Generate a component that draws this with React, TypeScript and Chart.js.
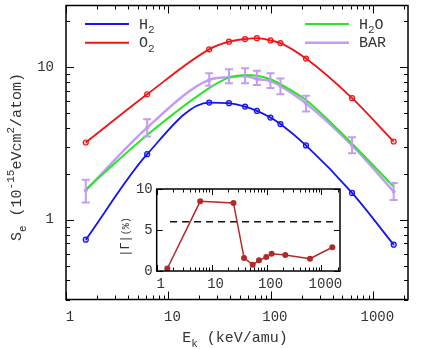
import React, { useEffect, useRef } from "react";
import { Chart, registerables } from "chart.js";
Chart.register(...registerables);

const FONT = '"Liberation Mono", "DejaVu Sans Mono", monospace';

// ---------- data ----------
const energies = [1.56, 6.2, 25, 39, 56, 73, 99, 124, 220, 620, 1580];
const h2Values = [0.74, 2.69, 5.87, 5.81, 5.52, 5.17, 4.68, 4.24, 3.07, 1.5, 0.686];
const o2Values = [3.21, 6.65, 13.1, 14.7, 15.3, 15.5, 15.0, 14.4, 11.4, 6.27, 3.26];
const h2oValues = [1.58, 3.6, 7.3, 8.55, 8.9, 8.8, 8.35, 7.75, 6.1, 3.15, 1.65];
const barValues = [1.56, 4.02, 8.26, 8.6, 8.77, 8.38, 8.13, 7.55, 5.81, 3.07, 1.53];
const barHigh = [1.83, 4.56, 9.12, 9.7, 9.85, 9.5, 9.12, 8.45, 6.5, 3.48, 1.74];
const barLow = [1.3, 3.51, 7.55, 7.86, 7.86, 7.65, 7.3, 6.65, 5.12, 2.73, 1.35];
const gammaValues = [0.3, 8.5, 8.3, 1.6, 0.75, 1.3, 1.7, 2.1, 1.95, 1.5, 2.9];
const gammaLimit = 6;
const gammaLimitRange = [1.75, 2000];

const xTickLabels = [1, 10, 100, 1000];
const yTickLabels = [1, 10];
const insetYTickLabels = [0, 5, 10];

const X_MIN = 1;
const X_MAX = 2180;
const Y_MIN = 0.3;
const Y_MAX = 25.4;

const C_H2 = "#1414f0";
const C_O2 = "#f01414";
const C_H2O = "#28e628";
const C_BAR = "#c49cf4";
const C_GAMMA = "#b02a2a";
const C_TEXT = "#333333";

type Seg = { t: string; k?: "sub" | "sup"; size?: number };

function segSize(s: Seg, size: number) {
  if (s.size) return s.size;
  return s.k ? Math.round(size * 0.72) : size;
}

function drawRich(ctx: any, segs: Seg[], x: number, y: number, size: number, align: "left" | "center") {
  let w = 0;
  for (const s of segs) {
    ctx.font = `${segSize(s, size)}px ${FONT}`;
    w += ctx.measureText(s.t).width;
  }
  let cx = align === "center" ? x - w / 2 : x;
  ctx.textAlign = "left";
  ctx.textBaseline = "alphabetic";
  for (const s of segs) {
    ctx.font = `${segSize(s, size)}px ${FONT}`;
    const dy = s.k === "sub" ? size * 0.3 : s.k === "sup" ? -size * 0.45 : 0;
    ctx.fillText(s.t, cx, y + dy);
    cx += ctx.measureText(s.t).width;
  }
}

function logMinors(min: number, max: number) {
  const out: number[] = [];
  for (let e = -2; e <= 4; e++) {
    for (let m = 2; m <= 9; m++) {
      const v = m * Math.pow(10, e);
      if (v > min * 1.0001 && v < max * 0.9999) out.push(v);
    }
  }
  return out;
}

function isDecade(v: number) {
  const l = Math.log10(v);
  return Math.abs(l - Math.round(l)) < 1e-9;
}

function drawFrame(chart: any, o: any) {
  const { ctx, chartArea: a, scales } = chart;
  const xs = scales.x;
  const ys = scales.y;
  ctx.save();
  ctx.strokeStyle = "#000";
  ctx.lineWidth = 1;
  ctx.beginPath();
  const xt = (v: number, len: number) => {
    const px = Math.round(xs.getPixelForValue(v)) + 0.5;
    ctx.moveTo(px, a.bottom);
    ctx.lineTo(px, a.bottom - len);
    ctx.moveTo(px, a.top);
    ctx.lineTo(px, a.top + len);
  };
  const yt = (v: number, len: number) => {
    const py = Math.round(ys.getPixelForValue(v)) + 0.5;
    ctx.moveTo(a.left, py);
    ctx.lineTo(a.left + len, py);
    ctx.moveTo(a.right, py);
    ctx.lineTo(a.right - len, py);
  };
  o.xMajor.forEach((v: number) => xt(v, o.major));
  o.xMinor.forEach((v: number) => xt(v, o.minor));
  o.yMajor.forEach((v: number) => yt(v, o.major));
  o.yMinor.forEach((v: number) => yt(v, o.minor));
  ctx.stroke();
  ctx.lineWidth = o.lw;
  ctx.strokeRect(a.left, a.top, a.right - a.left, a.bottom - a.top);
  ctx.restore();
}

const pts = (ys: number[]) => energies.map((x, i) => ({ x, y: ys[i] }));

const fixX = (h: number) => (s: any) => {
  s.height = h;
  s.paddingLeft = 0;
  s.paddingRight = 0;
  s.paddingTop = 0;
  s.paddingBottom = 0;
};
const fixY = (w: number) => (s: any) => {
  s.width = w;
  s.paddingLeft = 0;
  s.paddingRight = 0;
  s.paddingTop = 0;
  s.paddingBottom = 0;
};

export default function App() {
  const mainRef = useRef<HTMLCanvasElement>(null);
  const insetRef = useRef<HTMLCanvasElement>(null);

  useEffect(() => {
    const mainPlugin = {
      id: "mainDecor",
      afterDatasetsDraw(chart: any) {
        const { ctx, scales } = chart;
        ctx.save();
        ctx.strokeStyle = C_BAR;
        ctx.lineWidth = 2;
        ctx.beginPath();
        energies.forEach((e, i) => {
          const px = scales.x.getPixelForValue(e);
          const hi = scales.y.getPixelForValue(barHigh[i]);
          const lo = scales.y.getPixelForValue(barLow[i]);
          ctx.moveTo(px, hi);
          ctx.lineTo(px, lo);
          ctx.moveTo(px - 4, hi);
          ctx.lineTo(px + 4, hi);
          ctx.moveTo(px - 4, lo);
          ctx.lineTo(px + 4, lo);
        });
        ctx.stroke();
        ctx.restore();
      },
      afterDraw(chart: any) {
        const { ctx } = chart;
        drawFrame(chart, {
          xMajor: xTickLabels,
          xMinor: logMinors(X_MIN, X_MAX),
          yMajor: yTickLabels,
          yMinor: logMinors(Y_MIN, Y_MAX).concat([0.3]),
          major: 8,
          minor: 4,
          lw: 1.5,
        });
        ctx.save();
        // legend
        const legend = [
          { c: C_H2, w: 2, x: 85, y: 24, segs: [{ t: "H" }, { t: "2", k: "sub" }] },
          { c: C_O2, w: 2, x: 85, y: 42.7, segs: [{ t: "O" }, { t: "2", k: "sub" }] },
          { c: C_H2O, w: 2, x: 305, y: 24, segs: [{ t: "H" }, { t: "2", k: "sub" }, { t: "O" }] },
          { c: C_BAR, w: 2.5, x: 305, y: 42.7, segs: [{ t: "BAR" }] },
        ];
        legend.forEach((l) => {
          ctx.strokeStyle = l.c;
          ctx.lineWidth = l.w;
          ctx.beginPath();
          ctx.moveTo(l.x, l.y);
          ctx.lineTo(l.x + 44, l.y);
          ctx.stroke();
          ctx.fillStyle = C_TEXT;
          drawRich(ctx, l.segs as Seg[], l.x + 54, l.y + 4.5, 15, "left");
        });
        // axis titles
        ctx.fillStyle = C_TEXT;
        drawRich(ctx, [{ t: "E" }, { t: "k", k: "sub" }, { t: " (keV/amu)" }], 235, 342, 15, "center");
        ctx.translate(21, 157);
        ctx.rotate(-Math.PI / 2);
        drawRich(
          ctx,
          [
            { t: "S" },
            { t: "e", k: "sub" },
            { t: " (10" },
            { t: "-15", k: "sup" },
            { t: "eVcm" },
            { t: "2", k: "sup" },
            { t: "/atom)" },
          ],
          0,
          0,
          15,
          "center"
        );
        ctx.restore();
      },
    };

    const main = new Chart(mainRef.current as HTMLCanvasElement, {
      type: "line",
      data: {
        datasets: [
          {
            label: "H2",
            data: pts(h2Values),
            borderColor: C_H2,
            backgroundColor: "rgba(20,20,240,0.25)",
            borderWidth: 1.8,
            pointRadius: 2.5,
            pointBorderWidth: 1.2,
            cubicInterpolationMode: "monotone",
            order: 2,
          },
          {
            label: "O2",
            data: pts(o2Values),
            borderColor: C_O2,
            backgroundColor: "rgba(240,20,20,0.2)",
            borderWidth: 1.8,
            pointRadius: 2.5,
            pointBorderWidth: 1.2,
            cubicInterpolationMode: "monotone",
            order: 1,
          },
          {
            label: "H2O",
            data: pts(h2oValues),
            borderColor: C_H2O,
            borderWidth: 2,
            pointRadius: 0,
            cubicInterpolationMode: "monotone",
            order: 3,
          },
          {
            label: "BAR",
            data: pts(barValues),
            borderColor: C_BAR,
            backgroundColor: C_BAR,
            borderWidth: 2.5,
            pointRadius: 2,
            pointBorderWidth: 0,
            cubicInterpolationMode: "monotone",
            order: 4,
          },
        ],
      },
      options: {
        animation: false,
        responsive: false,
        devicePixelRatio: 1,
        layout: { autoPadding: false, padding: { top: 5.5, right: 28, left: 0, bottom: 0 } },
        plugins: { legend: { display: false }, tooltip: { enabled: false } },
        scales: {
          x: {
            type: "logarithmic",
            min: X_MIN,
            max: X_MAX,
            grid: { display: false, drawTicks: false },
            border: { display: false },
            afterFit: fixX(49.5),
            ticks: {
              autoSkip: false,
              maxRotation: 0,
              minRotation: 0,
              padding: 9,
              labelOffset: 4,
              color: C_TEXT,
              font: { family: FONT, size: 14 },
              callback: (v: any) => (isDecade(Number(v)) && xTickLabels.includes(Number(v)) ? String(v) : ""),
            },
          },
          y: {
            type: "logarithmic",
            min: Y_MIN,
            max: Y_MAX,
            grid: { display: false, drawTicks: false },
            border: { display: false },
            afterFit: fixY(66),
            ticks: {
              autoSkip: false,
              padding: 12,
              color: C_TEXT,
              font: { family: FONT, size: 14 },
              callback: (v: any) => (isDecade(Number(v)) && yTickLabels.includes(Number(v)) ? String(v) : ""),
            },
          },
        },
      },
      plugins: [mainPlugin],
    } as any);

    const insetPlugin = {
      id: "insetDecor",
      afterDraw(chart: any) {
        const { ctx } = chart;
        drawFrame(chart, {
          xMajor: xTickLabels,
          xMinor: logMinors(X_MIN, X_MAX),
          yMajor: insetYTickLabels,
          yMinor: [],
          major: 6,
          minor: 3.5,
          lw: 1.5,
        });
        ctx.save();
        ctx.fillStyle = C_TEXT;
        ctx.translate(29, 57);
        ctx.rotate(-Math.PI / 2);
        drawRich(ctx, [{ t: "|Γ|", size: 12 }, { t: "(%)", size: 10 }], 0, 0, 12, "center");
        ctx.restore();
      },
    };

    const inset = new Chart(insetRef.current as HTMLCanvasElement, {
      type: "line",
      data: {
        datasets: [
          {
            label: "Gamma",
            data: pts(gammaValues),
            borderColor: C_GAMMA,
            backgroundColor: C_GAMMA,
            borderWidth: 1.5,
            pointRadius: 3,
            pointBorderWidth: 0,
            tension: 0,
          },
          {
            label: "limit",
            data: gammaLimitRange.map((x) => ({ x, y: gammaLimit })),
            borderColor: "#111",
            borderWidth: 1.5,
            borderDash: [7, 5],
            pointRadius: 0,
            tension: 0,
          },
        ],
      },
      options: {
        animation: false,
        responsive: false,
        devicePixelRatio: 1,
        layout: { autoPadding: false, padding: { top: 9, right: 10, left: 0, bottom: 0 } },
        plugins: { legend: { display: false }, tooltip: { enabled: false } },
        scales: {
          x: {
            type: "logarithmic",
            min: X_MIN,
            max: X_MAX,
            grid: { display: false, drawTicks: false },
            border: { display: false },
            afterFit: fixX(29),
            ticks: {
              autoSkip: false,
              maxRotation: 0,
              minRotation: 0,
              padding: 4.5,
              labelOffset: 4,
              color: C_TEXT,
              font: { family: FONT, size: 14 },
              callback: (v: any) => (isDecade(Number(v)) && xTickLabels.includes(Number(v)) ? String(v) : ""),
            },
          },
          y: {
            type: "linear",
            min: 0,
            max: 10,
            grid: { display: false, drawTicks: false },
            border: { display: false },
            afterFit: fixY(56.7),
            ticks: {
              stepSize: 5,
              padding: 4,
              color: C_TEXT,
              font: { family: FONT, size: 14 },
              callback: (v: any) => (insetYTickLabels.includes(Number(v)) ? String(v) : ""),
            },
          },
        },
      },
      plugins: [insetPlugin],
    } as any);

    return () => {
      main.destroy();
      inset.destroy();
    };
  }, []);

  return (
    <div style={{ position: "absolute", left: 0, top: 0, width: 436, height: 349 }}>
      <canvas
        ref={mainRef}
        width={436}
        height={349}
        style={{ position: "absolute", left: 0, top: 0, width: 436, height: 349 }}
      />
      <canvas
        ref={insetRef}
        width={250}
        height={120}
        style={{ position: "absolute", left: 100, top: 180, width: 250, height: 120 }}
      />
    </div>
  );
}
